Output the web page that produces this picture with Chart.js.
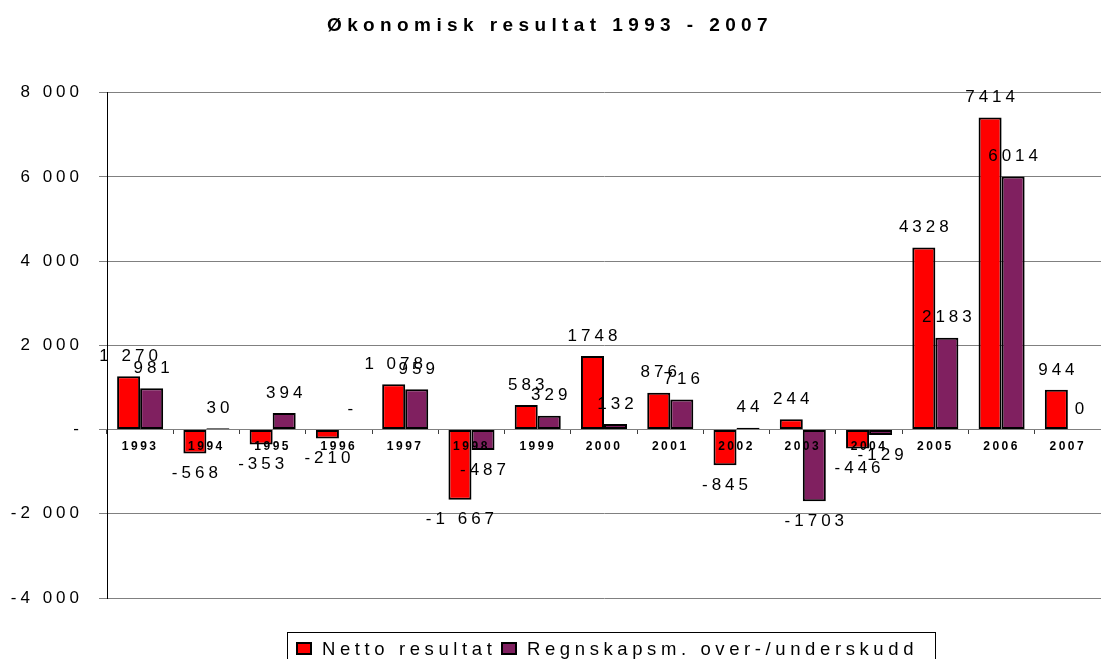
<!DOCTYPE html>
<html>
<head>
<meta charset="utf-8">
<script src="https://cdn.jsdelivr.net/npm/chart.js@4.4.1/dist/chart.umd.min.js"></script>
<style>
	html, body { margin: 0; padding: 0; background: #fff; overflow: hidden; }
	#wrap { position: relative; width: 1101px; height: 659px; }
	#legend {
		position: absolute; left: 287px; top: 632px; width: 649px; height: 40px;
		border: 1px solid #000; box-sizing: border-box;
		font: 18.5px/18px "Liberation Sans", Arial, sans-serif; letter-spacing: 4.6px;
		white-space: nowrap; color: #000;
	}
	#legend span { position: absolute; top: 7px; }
	#legend span.box { width: 12px; height: 9px; border: 2px solid #000; top: 9px; }
</style>
</head>
<body>
<div id="wrap">
	<canvas id="chart" width="1101" height="659"></canvas>
	<div id="legend">
		<span class="box" style="left:8px;background:#ff0000"></span><span style="left:34px">Netto resultat</span>
		<span class="box" style="left:213px;background:#802060"></span><span style="left:239px">Regnskapsm. over-/underskudd</span>
	</div>
</div>
<script>
var years = ['1993','1994','1995','1996','1997','1998','1999','2000','2001','2002','2003','2004','2005','2006','2007'];
var netto = [1270, -568, -353, -210, 1078, -1667, 583, 1748, 876, -845, 244, -446, 4328, 7414, 944];
var regnskap = [981, 30, 394, 0, 959, -487, 329, 132, 716, 44, -1703, -129, 2183, 6014, 0];
var nettoLabels = ['1 270','-568','-353','-210','1 078','-1 667','583','1748','876','-845','244','-446','4328','7414','944'];
var regnskapLabels = ['981','30','394','-','959','-487','329','132','716','44','-1703','-129','2183','6014','0'];
var yTicks = [-4000, -2000, 0, 2000, 4000, 6000, 8000];

Chart.defaults.font.family = '"Liberation Sans", Arial, sans-serif';
Chart.defaults.color = '#000';

function spaced(obj, method, ls){
	if(!obj || obj['_ls_' + method]) return;
	var orig = obj[method];
	obj[method] = function(){
		var ctx = this.ctx || this.chart.ctx;
		ctx.save();
		ctx.letterSpacing = ls;
		var r = orig.apply(this, arguments);
		ctx.restore();
		return r;
	};
	obj['_ls_' + method] = true;
}

function fmt(v){
	if(v === 0) return '-';
	var s = String(Math.abs(v)).replace(/\B(?=(\d{3})+(?!\d))/g, ' ');
	return (v < 0 ? '-' : '') + s;
}

var barLabels = {
	id: 'barLabels',
	beforeDraw: function(chart){
		chart.ctx.letterSpacing = '4px';
		spaced(chart.titleBlock, 'draw', '5.4px');
		spaced(chart.scales.x, 'drawLabels', '2.5px');
	},
	afterDraw: function(chart){
		var ctx = chart.ctx;
		var texts = [nettoLabels, regnskapLabels];
		ctx.save();
		ctx.font = '17px "Liberation Sans", Arial, sans-serif';
		ctx.letterSpacing = '4px';
		ctx.fillStyle = '#000';
		ctx.textAlign = 'center';
		ctx.textBaseline = 'middle';
		chart.data.datasets.forEach(function(ds, i){
			var meta = chart.getDatasetMeta(i);
			meta.data.forEach(function(bar, j){
				var v = ds.data[j];
				var y = v < 0 ? bar.y + 20 : bar.y - 20;
				ctx.fillText(texts[i][j], bar.x + 2, y);
			});
		});
		ctx.restore();
	}
};

var chartdata = {
	labels: years,
	datasets: [
		{
			label: 'Netto resultat',
			backgroundColor: '#ff0000',
			borderColor: '#000',
			borderWidth: 2,
			borderSkipped: false,
			data: netto
		},
		{
			label: 'Regnskapsm. over-/underskudd',
			backgroundColor: '#802060',
			borderColor: '#000',
			borderWidth: 2,
			borderSkipped: false,
			data: regnskap
		}
	]
};

var ctx = document.getElementById('chart').getContext('2d');
var barGraph = new Chart(ctx, {
	type: 'bar',
	data: chartdata,
	plugins: [barLabels],
	options: {
		responsive: false,
		animation: false,
		events: [],
		layout: { padding: { left: -13, right: -12, top: 0, bottom: 61 } },
		datasets: { bar: { categoryPercentage: 0.695, barPercentage: 1 } },
		plugins: {
			legend: { display: false },
			tooltip: { enabled: false },
			title: {
				display: true,
				text: 'Økonomisk resultat 1993 - 2007',
				color: '#000',
				font: { size: 19, weight: 'bold' },
				padding: { top: 14, bottom: 56 }
			}
		},
		scales: {
			x: {
				position: { y: 0 },
				grid: { display: true, drawOnChartArea: false, drawTicks: true, tickLength: 4, color: '#404040', offset: true },
				border: { display: true, color: '#808080', width: 1 },
				ticks: { z: 1, font: { size: 12, weight: 'bold' }, padding: 6, color: '#000', autoSkip: false, maxRotation: 0 }
			},
			y: {
				min: -4000,
				max: 8000,
				afterBuildTicks: function(scale){
					scale.ticks = yTicks.map(function(v){ return { value: v }; });
				},
				grid: { color: '#808080', lineWidth: 1, tickLength: 8 },
				border: { display: true, color: '#000', width: 1 },
				ticks: { font: { size: 17 }, padding: 16, color: '#000', callback: function(v){ return fmt(v); } },
				afterFit: function(scale){ scale.width = 120; }
			}
		}
	}
});
</script>
</body>
</html>
